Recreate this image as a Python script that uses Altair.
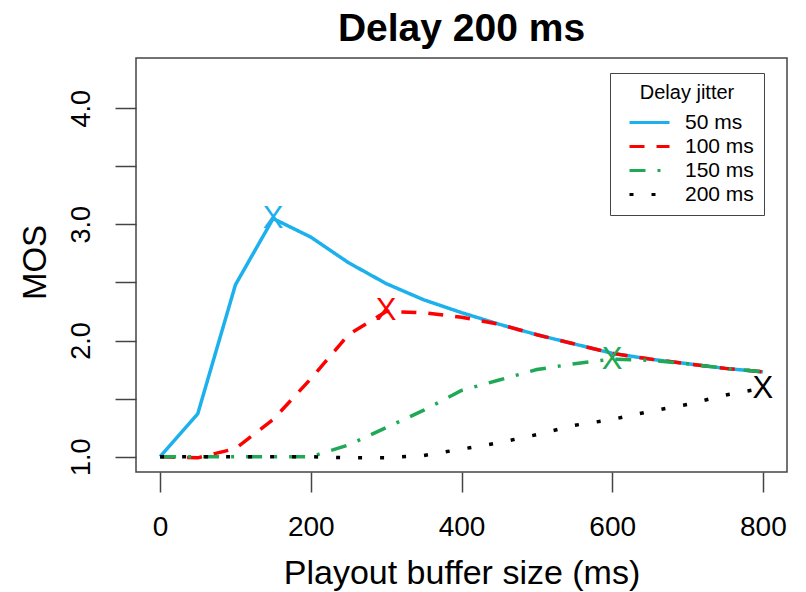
import altair as alt
import pandas as pd

# ---- data ----
buffer_ms = [0, 50, 100, 150, 200, 250, 300, 350, 400, 450, 500, 550, 600, 650, 700, 750, 800]
mos_50 = [1.00, 1.37, 2.48, 3.05, 2.89, 2.67, 2.49, 2.35, 2.24, 2.14, 2.05, 1.97, 1.89, 1.84, 1.80, 1.76, 1.73]
mos_100 = [1.00, 0.99, 1.07, 1.32, 1.67, 2.05, 2.25, 2.24, 2.20, 2.14, 2.05, 1.97, 1.89, 1.84, 1.80, 1.76, 1.73]
mos_150 = [1.00, 1.00, 1.00, 1.00, 1.00, 1.10, 1.25, 1.40, 1.57, 1.66, 1.75, 1.80, 1.84, 1.83, 1.80, 1.76, 1.73]
mos_200 = [1.00, 1.00, 1.00, 1.00, 1.00, 0.99, 0.99, 1.01, 1.065, 1.12, 1.19, 1.27, 1.32, 1.39, 1.45, 1.53, 1.59]

series_names = ["50 ms", "100 ms", "150 ms", "200 ms"]
series_colors = ["#1CB0EC", "#FF0000", "#1FA855", "#000000"]
series_dashes = [[1, 0], [15, 12], [16, 12, 3, 12], [4, 18]]

marker_x = [150, 300, 600, 800]
marker_y = [3.05, 2.25, 1.83, 1.58]

y_ticks = [1.0, 1.5, 2.0, 2.5, 3.0, 3.5, 4.0]
x_ticks = [0, 200, 400, 600, 800]

# ---- tables ----
rows = []
for name, vals in zip(series_names, [mos_50, mos_100, mos_150, mos_200]):
    for xv, yv in zip(buffer_ms, vals):
        rows.append({"buffer": xv, "mos": yv, "series": name})
df = pd.DataFrame(rows)
markers = pd.DataFrame({"buffer": marker_x, "mos": marker_y, "col": series_colors})

FONT = "Liberation Sans"

x_enc = alt.X(
    "buffer:Q",
    scale=alt.Scale(domain=[-32, 832], nice=False, zero=False),
    axis=alt.Axis(
        values=x_ticks, title="Playout buffer size (ms)", tickSize=20, labelPadding=21,
        labelFontSize=28, titleFontSize=34, titleY=111, titleBaseline="alphabetic",
        labelFlush=False, labelOverlap=False, grid=False, domain=False,
        titleFontWeight="normal",
    ),
)
y_enc = alt.Y(
    "mos:Q",
    scale=alt.Scale(domain=[0.868, 4.432], nice=False, zero=False),
    axis=alt.Axis(
        values=y_ticks, title="MOS", tickSize=21, labelPadding=26,
        labelExpr="datum.value % 1 == 0 ? format(datum.value, '.1f') : ''",
        labelAngle=270, labelAlign="center", labelBaseline="alphabetic",
        labelFontSize=27, titleFontSize=33, titleAngle=270, titleX=-91, titleY=204,
        titleBaseline="alphabetic", labelFlush=False, labelOverlap=False,
        grid=False, domain=False, titleFontWeight="normal",
    ),
)
color_enc = alt.Color(
    "series:N",
    scale=alt.Scale(domain=series_names, range=series_colors),
    legend=alt.Legend(
        title="Delay jitter", orient="none", legendX=474, legendY=15,
        symbolType="M-2,0L2,0", symbolSize=400, symbolStrokeWidth=3, symbolOffset=18,
        labelFontSize=21, titleFontSize=20, titleFontWeight="normal", titleAnchor="middle",
        labelOffset=24, padding=10, rowPadding=2, titlePadding=8, strokeColor="#444",
        titleFont=FONT, labelFont=FONT, titleColor="black", labelColor="black",
    ),
)
dash_enc = alt.StrokeDash(
    "series:N",
    scale=alt.Scale(domain=series_names, range=series_dashes),
    legend=alt.Legend(title="Delay jitter"),
)

layers = []
for name in series_names:
    layers.append(
        alt.Chart(df)
        .transform_filter(alt.datum.series == name)
        .mark_line(strokeWidth=3.5, strokeCap="butt")
        .encode(x=x_enc, y=y_enc, color=color_enc, strokeDash=dash_enc)
    )

mark_layer = (
    alt.Chart(markers)
    .mark_text(text="X", fontSize=31, font=FONT, baseline="middle", align="center")
    .encode(x="buffer:Q", y="mos:Q", color=alt.Color("col:N", scale=None))
)

chart = (
    alt.layer(*layers, mark_layer)
    .properties(
        width=651, height=414,
        title=alt.TitleParams("Delay 200 ms", fontSize=39, fontWeight="bold", font=FONT,
                              anchor="middle", offset=18, dy=40, baseline="alphabetic",
                              frame="group", color="black"),
        autosize=alt.AutoSizeParams(type="none"),
        padding={"left": 136, "top": 58, "right": 19, "bottom": 120},
        background="white",
    )
    .configure_view(stroke="#444", strokeWidth=1.5)
    .configure_axis(
        grid=False, domain=False, tickColor="#444", tickWidth=1.5,
        labelFont=FONT, titleFont=FONT, labelColor="black", titleColor="black",
        titleFontWeight="normal",
    )
)

chart.save("out.html", embed_options={"renderer": "svg", "actions": False})
